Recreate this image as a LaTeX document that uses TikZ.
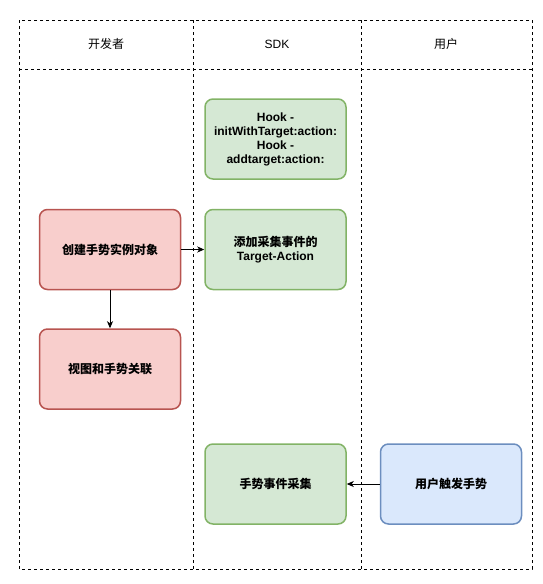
\documentclass[tikz,border=0pt]{standalone}
\usepackage{fontspec}
\setmainfont{Liberation Sans}
\newfontfamily\cjk{Noto Sans CJK SC}
\usetikzlibrary{arrows.meta}
\definecolor{redfill}{HTML}{F8CECC}
\definecolor{redline}{HTML}{B85450}
\definecolor{greenfill}{HTML}{D5E8D4}
\definecolor{greenline}{HTML}{82B366}
\definecolor{bluefill}{HTML}{DAE8FC}
\definecolor{blueline}{HTML}{6C8EBF}
\tikzset{
  lane/.style={draw=black, line width=0.8pt, dash pattern=on 3pt off 3pt},
  box/.style={rounded corners=8pt, line width=1.5pt, minimum width=141pt, minimum height=80pt, inner sep=0pt, align=center, font=\fontsize{12}{14}\selectfont\bfseries},
  redbox/.style={box, draw=redline, fill=redfill},
  greenbox/.style={box, draw=greenline, fill=greenfill},
  bluebox/.style={box, draw=blueline, fill=bluefill},
  head/.style={font=\fontsize{12}{14}\selectfont},
  conn/.style={line width=0.8pt, -{Stealth[length=7pt,width=6pt,inset=2pt]}},
}
\begin{document}
\begin{tikzpicture}[x=1pt,y=-1pt]
\useasboundingbox (0,0) rectangle (543,584);
\draw[lane] (19,20) rectangle (532,569);
\draw[lane] (19,69) -- (532,69);
\draw[lane] (193,20) -- (193,569);
\draw[lane] (361,20) -- (361,569);
\node[head] (h1) at (106,44) {\cjk 开发者};
\node[head] (h2) at (277,44) {SDK};
\node[head] (h3) at (446,44) {\cjk 用户};
\node[greenbox] (hook) at (275.5,139) {Hook -\\initWithTarget:action:\\Hook -\\addtarget:action:};
\node[redbox] (create) at (110,249.5) {\cjk 创建手势实例对象};
\node[greenbox] (add) at (275.5,249.5) {{\cjk 添加采集事件的}\\Target-Action};
\node[redbox] (view) at (110,369) {\cjk 视图和手势关联};
\node[greenbox] (collect) at (275.5,484) {\cjk 手势事件采集};
\node[bluebox] (user) at (451,484) {\cjk 用户触发手势};
\draw[conn] (create) -- (add);
\draw[conn] (create) -- (view);
\draw[conn] (user) -- (collect);
\end{tikzpicture}
\end{document}
